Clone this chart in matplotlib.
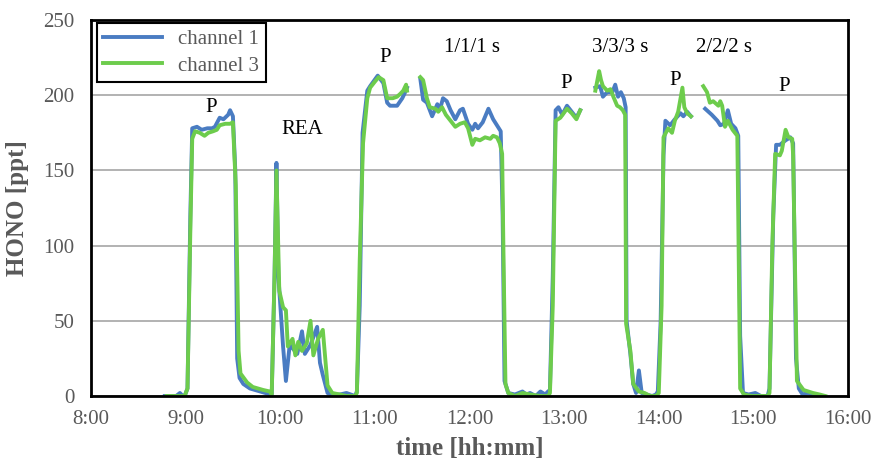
import numpy as np
import matplotlib.pyplot as plt
from matplotlib.ticker import FuncFormatter

plt.rcParams['font.family'] = ['Liberation Serif', 'DejaVu Serif']

nan = np.nan

# time in decimal hours, HONO in ppt (NaN = gap in record)
time_ch1 = [8.78, 8.90, 8.94, 8.97, 8.99, 9.02, 9.05, 9.07, 9.12, 9.17, 9.23, 9.28, 9.31,
            9.36, 9.40, 9.45, 9.47, 9.50, 9.525, 9.545, 9.57, 9.61, 9.68, 9.79, 9.87,
            9.91, 9.94, 9.96, 9.98, 10.03, 10.06, 10.10, 10.18, 10.23, 10.26, 10.32,
            10.39, 10.42, 10.45, 10.50, 10.55, 10.63, 10.70, 10.79,
            10.81, 10.84, 10.87, 10.92, 10.95, 11.03, 11.09, 11.13, 11.16, 11.235, 11.29, 11.32, 11.34,
            nan,
            11.48, 11.51, 11.55, 11.58, 11.605, 11.66, 11.69, 11.72, 11.76, 11.80, 11.85,
            11.90, 11.93, 11.985, 12.03, 12.06, 12.09, 12.14, 12.20, 12.25, 12.27, 12.30,
            12.33, 12.35, 12.37, 12.41, 12.48, 12.56, 12.60, 12.64, 12.70,
            12.75, 12.80, 12.83, 12.85, 12.88, 12.91, 12.94, 12.98, 13.03, 13.08, 13.13, 13.17,
            nan,
            13.33, 13.38, 13.41, 13.455, 13.51, 13.54, 13.57, 13.60, 13.63, 13.65, 13.66,
            13.70, 13.73, 13.76, 13.79, 13.82, 13.87, 13.93, 13.97, 13.99, 14.02, 14.05,
            14.07, 14.12, 14.17, 14.23, 14.26, 14.30, 14.34,
            nan,
            14.49, 14.56, 14.62, 14.65, 14.69, 14.73, 14.765, 14.81, 14.84, 14.86, 14.89,
            14.95, 15.02, 15.08, 15.15, 15.17, 15.21, 15.24, 15.28, 15.34, 15.39, 15.42,
            15.45, 15.48, 15.52, 15.58, 15.63, 15.70]
hono_ch1 = [0, 0, 2, 0, 0, 5, 120, 178, 179, 177, 178, 178, 179,
            185, 184, 187, 190, 186, 150, 25, 12, 8, 5, 3, 1.5,
            1, 80, 155, 80, 33, 10, 34, 28, 43, 28, 34,
            46, 22, 14, 2, 1, 1, 2, 0,
            3, 60, 175, 203, 206, 213, 208, 195, 193, 193, 198, 202, 205,
            nan,
            211, 197, 195, 190, 186, 194, 191, 198, 196, 190, 184,
            190, 191, 181, 177, 181, 178, 182, 191, 184, 182, 179,
            176, 120, 10, 2, 1, 3, 1, 2, 0,
            3, 1, 3, 4, 80, 190, 192, 187, 193, 189, 185, 190,
            nan,
            205, 206, 199, 202, 202, 207, 199, 202, 198, 192, 50,
            28, 8, 2, 17, 2, 1, 0, 1, 3, 50, 160,
            183, 180, 184, 188, 186, 189, 186,
            nan,
            191, 187, 183, 180, 181, 190, 181, 178, 173, 40, 2,
            1, 2, 0, 0, 5, 120, 167, 167, 170, 172, 168,
            25, 5, 1, 2, 1, 0]

time_ch3 = [8.80, 8.90, 8.97, 8.99, 9.02, 9.05, 9.07, 9.10, 9.15, 9.20, 9.24, 9.29,
            9.33, 9.36, 9.42, 9.47, 9.50, 9.53, 9.56, 9.58, 9.65, 9.71, 9.82, 9.89,
            9.91, 9.94, 9.96, 9.99, 10.03, 10.06, 10.08, 10.13, 10.16, 10.19, 10.23,
            10.28, 10.32, 10.35, 10.40, 10.45, 10.50, 10.55, 10.63, 10.70, 10.79,
            10.81, 10.84, 10.875, 10.92, 10.95, 11.00, 11.04, 11.09, 11.13, 11.16, 11.19,
            11.235, 11.27, 11.30, 11.33, 11.34,
            nan,
            11.48, 11.51, 11.55, 11.58, 11.64, 11.67, 11.71, 11.75, 11.80, 11.85, 11.90,
            11.95, 11.985, 12.03, 12.06, 12.11, 12.165, 12.22, 12.25, 12.29, 12.32, 12.345,
            12.36, 12.38, 12.41, 12.48, 12.56, 12.64, 12.75,
            12.83, 12.85, 12.88, 12.91, 12.96, 13.03, 13.08, 13.13, 13.17,
            nan,
            13.33, 13.37, 13.39, 13.41, 13.455, 13.49, 13.52, 13.56, 13.59, 13.62, 13.645,
            13.655, 13.70, 13.73, 13.79, 13.85, 13.91, 13.97, 14.00, 14.03, 14.05, 14.10,
            14.14, 14.17, 14.205, 14.25, 14.27, 14.30, 14.34,
            nan,
            14.47, 14.51, 14.54, 14.575, 14.63, 14.65, 14.67, 14.70, 14.73, 14.78, 14.83,
            14.84, 14.86, 14.90, 14.98, 15.06, 15.15, 15.17, 15.20, 15.23, 15.28, 15.30,
            15.34, 15.37, 15.41, 15.42, 15.46, 15.53, 15.63, 15.70, 15.76]
hono_ch3 = [0, 0, 0, 0, 5, 110, 171, 176, 175, 173, 175, 176,
            177, 180, 181, 181, 182, 140, 30, 15, 9, 6, 4, 3,
            1, 80, 150, 70, 59, 57, 33, 38, 27, 36, 30,
            35, 50, 27, 38, 44, 7, 2, 1, 0, 0,
            2, 90, 168, 198, 205, 209, 212, 210, 198, 198, 198,
            199, 201, 203, 207, 203,
            nan,
            212, 210, 198, 192, 191, 189, 192, 187, 183, 179, 181,
            182, 178, 167, 171, 170, 172, 171, 173, 172, 168, 161,
            90, 8, 2, 0, 2, 1, 0,
            0, 2, 60, 183, 185, 191, 188, 184, 190,
            nan,
            203, 216, 210, 206, 203, 204, 199, 193, 192, 190, 187,
            48, 30, 8, 3, 2, 0, 0, 2, 60, 172, 178,
            175, 183, 189, 205, 192, 188, 186,
            nan,
            206, 202, 195, 196, 193, 196, 193, 179, 183, 177, 173,
            120, 5, 1, 0, 0, 0, 2, 100, 161, 160, 163,
            177, 172, 171, 160, 10, 4, 2, 1, 0]

# annotation labels (text, time, HONO)
note_text = ['P', 'REA', 'P', '1/1/1 s', 'P', '3/3/3 s', 'P', '2/2/2 s', 'P']
note_time = [9.27, 10.23, 11.11, 12.03, 13.02, 13.59, 14.17, 14.69, 15.33]
note_hono = [192, 177, 225, 232, 208, 232, 210, 232, 206]

fig = plt.figure(figsize=(8.73, 4.66), dpi=100)
ax = fig.add_axes([0.1042, 0.1502, 0.8672, 0.8069])

ax.plot(time_ch1, hono_ch1, color='#4a7cc2', lw=2.8, solid_joinstyle='round',
        label='channel 1')
ax.plot(time_ch3, hono_ch3, color='#6dcc4c', lw=2.8, solid_joinstyle='round',
        label='channel 3')

for txt, t, v in zip(note_text, note_time, note_hono):
    ax.text(t, v, txt, ha='center', va='center', fontsize=15, color='black')

ax.set_xlim(8, 16)
ax.set_ylim(0, 250)
ax.set_xticks(np.arange(8, 17, 1))
ax.set_yticks(np.arange(0, 251, 50))
ax.xaxis.set_major_formatter(FuncFormatter(lambda v, p: '%d:00' % int(round(v))))
ax.yaxis.grid(True, color='#a6a6a6', lw=1.2)
ax.set_axisbelow(True)
ax.tick_params(length=0, labelsize=15, labelcolor='#595959', pad=12)
ax.tick_params(axis='x', pad=10)
for s in ax.spines.values():
    s.set_linewidth(2)
    s.set_color('black')

ax.set_xlabel('time [hh:mm]', fontsize=18, fontweight='bold', color='#595959', labelpad=6)
ax.set_ylabel('HONO [ppt]', fontsize=18, fontweight='bold', color='#595959', labelpad=10)

leg = ax.legend(loc='upper left', bbox_to_anchor=(0.008, 0.992), borderaxespad=0,
                fancybox=False, edgecolor='black', fontsize=15, handlelength=2.8,
                labelspacing=0.35, borderpad=0.3, framealpha=1)
leg.get_frame().set_linewidth(1.5)
for t in leg.get_texts():
    t.set_color('#595959')

fig.savefig('out.png', dpi=100)
